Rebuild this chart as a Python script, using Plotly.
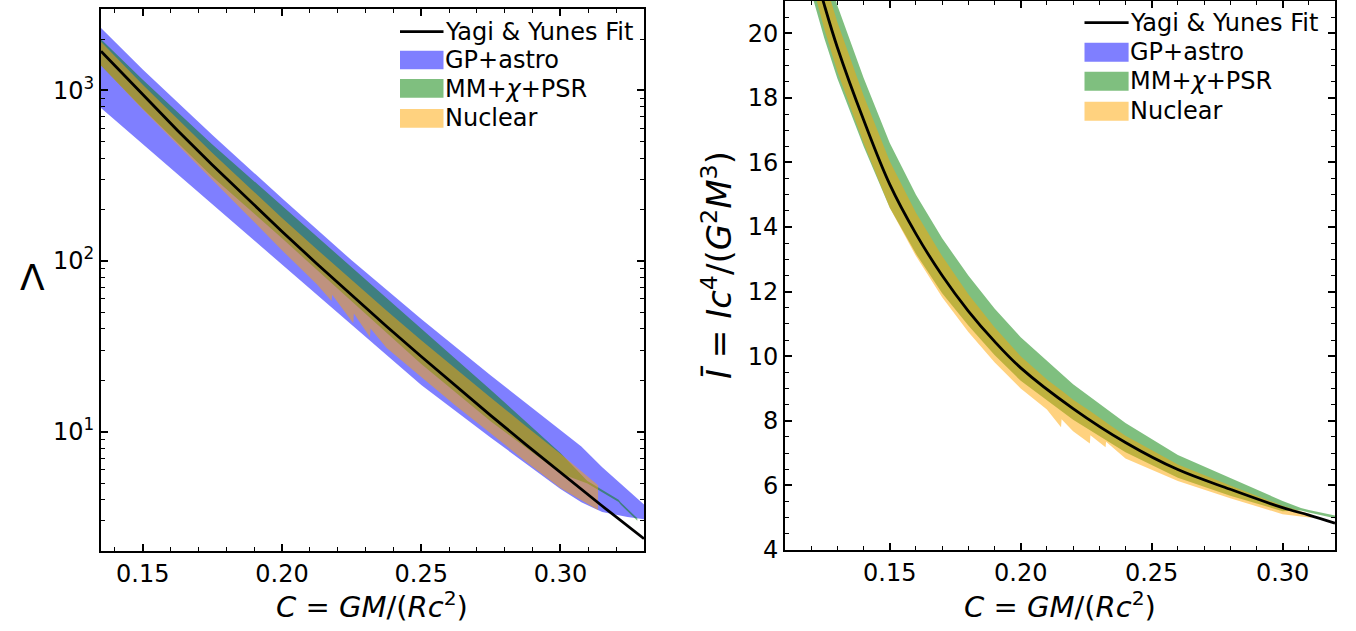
import plotly.graph_objects as go

# ---------------- Left panel: tidal deformability vs compactness ----------------
C_fit_L = [0.135, 0.15, 0.1625, 0.175, 0.1875, 0.20, 0.2125, 0.225, 0.2375, 0.25,
           0.2625, 0.275, 0.2875, 0.30, 0.315, 0.33]
Lam_fit = [1697, 940, 583, 366, 232, 149, 96.5, 63.0, 41.5, 27.6,
           18.45, 12.43, 8.43, 5.76, 3.67, 2.36]

C_gp = [0.135, 0.15, 0.175, 0.20, 0.225, 0.25, 0.275, 0.30, 0.3075, 0.315, 0.3241, 0.33]
gp_hi = [2323, 1328, 547.6, 233.4, 101.0, 45.8, 21.36, 10.24, 8.18, 6.20, 4.55, 3.74]
gp_lo = [789, 484, 215, 95.3, 42.4, 18.8, 9.22, 4.61, 3.86, 3.38, 3.16, 3.07]

C_mm_L = [0.135, 0.15, 0.175, 0.20, 0.225, 0.25, 0.275, 0.30, 0.3097, 0.3209, 0.3216, 0.3276]
mm_hi_L = [1994, 1156, 482.6, 210.5, 92.1, 40.35, 17.56, 7.51, 5.14, 4.00, 3.86, 3.11]
mm_lo_L = [1399, 782, 311.5, 135.9, 58.1, 24.9, 11.47, 5.69, 4.98, 3.87, 3.74, 3.01]

C_nuc_L = [0.135, 0.15, 0.175, 0.1875, 0.20, 0.2125, 0.2178, 0.2180, 0.2256, 0.2258,
           0.2316, 0.2318, 0.2375, 0.25, 0.2625, 0.275, 0.2875, 0.30, 0.3135]
nuc_hi_L = [1926, 1079, 430, 275.8, 179.1, 117.3, 98.4, 97.7, 76.0, 75.5,
            62.6, 62.2, 51.4, 34.35, 23.2, 15.83, 10.81, 7.42, 4.86]
nuc_lo_L = [1399, 773, 298.9, 186.4, 115.7, 73.2, 58.3, 63.5, 43.2, 49.3,
            35.8, 40.3, 31.1, 20.9, 14.16, 9.76, 6.70, 4.68, 3.48]

# ---------------- Right panel: moment of inertia vs compactness ----------------
C_fit_R = [0.115, 0.12, 0.125, 0.13, 0.14, 0.15, 0.16, 0.17, 0.18, 0.19, 0.20,
           0.22, 0.24, 0.26, 0.28, 0.30, 0.31, 0.32]
I_fit = [23.96, 22.34, 20.88, 19.56, 17.32, 15.32, 13.79, 12.50, 11.40, 10.46, 9.64,
         8.38, 7.33, 6.49, 5.88, 5.31, 5.08, 4.83]

C_mm_R = [0.115, 0.12, 0.125, 0.13, 0.14, 0.15, 0.16, 0.17, 0.18, 0.19, 0.20,
          0.22, 0.24, 0.26, 0.28, 0.30, 0.307, 0.31, 0.32]
mm_hi_R = [25.26, 23.64, 22.18, 20.86, 18.62, 16.6, 15.0, 13.65, 12.5, 11.48, 10.59,
           9.13, 7.93, 6.94, 6.23, 5.52, 5.30, 5.24, 5.07]
mm_lo_R = [22.86, 21.27, 19.85, 18.6, 16.5, 14.6, 13.17, 11.95, 10.95, 10.04, 9.24,
           8.03, 7.03, 6.24, 5.68, 5.20, 5.22, 5.16, 4.98]

C_nuc_R = [0.115, 0.12, 0.125, 0.13, 0.14, 0.15, 0.16, 0.17, 0.18, 0.19, 0.20, 0.21,
           0.2154, 0.2156, 0.22, 0.2264, 0.2266, 0.2324, 0.2326, 0.24, 0.26, 0.28, 0.30, 0.311]
nuc_hi_R = [24.76, 23.14, 21.68, 20.34, 18.07, 16.04, 14.44, 13.1, 11.92, 10.9, 10.0, 9.28,
            8.95, 8.94, 8.65, 8.31, 8.30, 7.96, 7.95, 7.54, 6.65, 6.0, 5.37, 5.10]
nuc_lo_R = [23.16, 21.57, 20.13, 18.82, 16.6, 14.6, 13.1, 11.83, 10.75, 9.81, 9.0, 8.35,
            7.80, 8.05, 7.68, 7.30, 7.55, 7.18, 7.35, 6.83, 6.14, 5.6, 5.11, 5.0]

legend_labels = ["Yagi & Yunes Fit", "GP+astro", "MM+<i>χ</i>+PSR", "Nuclear"]
COL_GP = "rgba(0,0,255,0.5)"
COL_MM = "rgba(0,128,0,0.5)"
COL_NUC = "rgba(255,165,0,0.5)"

W, H = 1356, 631
FONT = "DejaVu Sans"


def band(x, lo, hi, color, xa, ya):
    return go.Scatter(x=list(x) + list(x)[::-1], y=list(hi) + list(lo)[::-1],
                      fill="toself", fillcolor=color, mode="lines",
                      line=dict(width=0, color=color), hoverinfo="skip",
                      showlegend=False, xaxis=xa, yaxis=ya)


fig = go.Figure()
# left
fig.add_trace(band(C_gp, gp_lo, gp_hi, COL_GP, "x", "y"))
fig.add_trace(band(C_mm_L, mm_lo_L, mm_hi_L, COL_MM, "x", "y"))
fig.add_trace(band(C_nuc_L, nuc_lo_L, nuc_hi_L, COL_NUC, "x", "y"))
fig.add_trace(go.Scatter(x=C_fit_L, y=Lam_fit, mode="lines", line=dict(color="black", width=2.8),
                         showlegend=False, xaxis="x", yaxis="y"))
# right
fig.add_trace(band(C_mm_R, mm_lo_R, mm_hi_R, COL_MM, "x2", "y2"))
fig.add_trace(band(C_nuc_R, nuc_lo_R, nuc_hi_R, COL_NUC, "x2", "y2"))
fig.add_trace(go.Scatter(x=C_fit_R, y=I_fit, mode="lines", line=dict(color="black", width=2.8, shape="spline"),
                         showlegend=False, xaxis="x2", yaxis="y2"))


def px(x):
    return x / W


def py(y):
    return 1 - y / H


axis_common = dict(showline=True, linecolor="black", linewidth=1.8, mirror="allticks",
                   ticks="inside", ticklen=7, tickwidth=1.5, tickcolor="black",
                   showgrid=False, zeroline=False, automargin=False,
                   tickfont=dict(family=FONT, size=24, color="black"))

minor_x = dict(ticks="inside", ticklen=4, tickwidth=1.2, tickcolor="black", dtick=0.01, showgrid=False)

fig.update_layout(
    width=W, height=H, margin=dict(l=0, r=0, t=0, b=0, autoexpand=False),
    paper_bgcolor="white", plot_bgcolor="white", showlegend=False,
    xaxis=dict(domain=[px(101), px(644)], range=[0.135, 0.33], anchor="y",
               tickvals=[0.15, 0.20, 0.25, 0.30], ticktext=["0.15", "0.20", "0.25", "0.30"],
               minor=minor_x, **axis_common),
    yaxis=dict(domain=[py(551), py(9)], type="log", range=[0.30103, 3.4771], anchor="x",
               tickvals=[10, 100, 1000], ticktext=["10<sup>1</sup>", "10<sup>2</sup>", "10<sup>3</sup>"],
               minor=dict(ticks="inside", ticklen=4, tickwidth=1.2, tickcolor="black", showgrid=False,
                          tickmode="array",
                          tickvals=[2, 3, 4, 5, 6, 7, 8, 9, 20, 30, 40, 50, 60, 70, 80, 90,
                                    200, 300, 400, 500, 600, 700, 800, 900, 2000, 3000]),
               **axis_common),
    xaxis2=dict(domain=[px(785), px(1335)], range=[0.11, 0.32], anchor="y2",
                tickvals=[0.15, 0.20, 0.25, 0.30], ticktext=["0.15", "0.20", "0.25", "0.30"],
                minor=minor_x, **axis_common),
    yaxis2=dict(domain=[py(550), py(1)], range=[4, 21], anchor="x2",
                tickvals=[4, 6, 8, 10, 12, 14, 16, 18, 20],
                minor=dict(ticks="inside", ticklen=4, tickwidth=1.2, tickcolor="black", dtick=0.5, showgrid=False),
                **axis_common),
)

ann = []
shapes = []
# axis titles
xt = "<i>C</i> = <i>GM</i>/(<i>Rc</i><sup>2</sup>)"
ann.append(dict(x=px(372), y=py(605), xref="paper", yref="paper", text=xt, showarrow=False,
                font=dict(family=FONT, size=29, color="black"), xanchor="center", yanchor="middle"))
ann.append(dict(x=px(1060), y=py(605), xref="paper", yref="paper", text=xt, showarrow=False,
                font=dict(family=FONT, size=29, color="black"), xanchor="center", yanchor="middle"))
ann.append(dict(x=px(32), y=py(277), xref="paper", yref="paper", text="Λ", showarrow=False,
                font=dict(family=FONT, size=36, color="black"), xanchor="center", yanchor="middle"))
ann.append(dict(x=px(717), y=py(265), xref="paper", yref="paper",
                text="<i>Ī</i> = <i>Ic</i><sup>4</sup>/(<i>G</i><sup>2</sup><i>M</i><sup>3</sup>)",
                showarrow=False, textangle=-90,
                font=dict(family=FONT, size=34, color="black"), xanchor="center", yanchor="middle"))


def legend(x0, x1, ytxt, yline, rects, show_text_x):
    shapes.append(dict(type="line", xref="paper", yref="paper", x0=px(x0), x1=px(x1),
                       y0=py(yline), y1=py(yline), line=dict(color="black", width=2.8)))
    cols = [COL_GP, COL_MM, COL_NUC]
    for (ya, yb), c in zip(rects, cols):
        shapes.append(dict(type="rect", xref="paper", yref="paper", x0=px(x0), x1=px(x1),
                           y0=py(yb), y1=py(ya), fillcolor=c, line=dict(width=0)))
    for lab, yy in zip(legend_labels, ytxt):
        ann.append(dict(x=px(show_text_x), y=py(yy), xref="paper", yref="paper", text=lab,
                        showarrow=False, xanchor="left", yanchor="middle",
                        font=dict(family=FONT, size=24, color="black")))


legend(400, 443.5, [31.7, 60, 88.8, 118], 31.7, [(50.7, 69.3), (79, 97.7), (109, 127.7)], 443)
legend(1084.5, 1128.6, [23.3, 51.7, 81, 110.5], 22.7, [(42.7, 61.7), (71.7, 90.7), (101.7, 120.7)], 1128)

fig.update_layout(annotations=ann, shapes=shapes)
fig.write_html("out.html")
